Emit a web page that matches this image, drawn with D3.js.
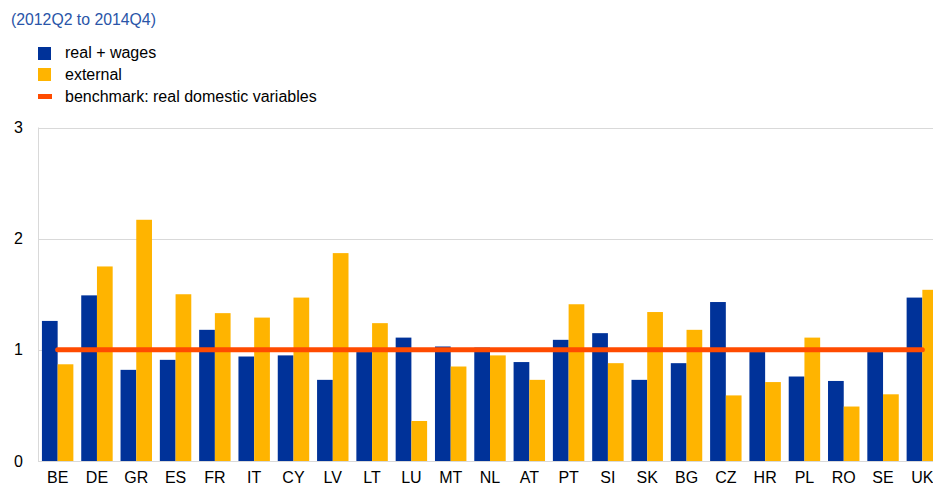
<!DOCTYPE html>
<html>
<head>
<meta charset="utf-8">
<script src="https://cdn.jsdelivr.net/npm/d3@7"></script>
<style>
  body { margin: 0; background: #fff; }
  text { font-family: "Liberation Sans", Arial, sans-serif; }
</style>
</head>
<body>
<script>
var countries = ['BE', 'DE', 'GR', 'ES', 'FR', 'IT', 'CY', 'LV', 'LT', 'LU', 'MT', 'NL',
                 'AT', 'PT', 'SI', 'SK', 'BG', 'CZ', 'HR', 'PL', 'RO', 'SE', 'UK'];
var realWages = [1.26, 1.49, 0.82, 0.91, 1.18, 0.94, 0.95, 0.73, 0.98, 1.11, 1.03, 1.02,
                 0.89, 1.09, 1.15, 0.73, 0.88, 1.43, 0.98, 0.76, 0.72, 0.98, 1.47];
var external = [0.87, 1.75, 2.17, 1.50, 1.33, 1.29, 1.47, 1.87, 1.24, 0.36, 0.85, 0.95,
                0.73, 1.41, 0.88, 1.34, 1.18, 0.59, 0.71, 1.11, 0.49, 0.60, 1.54];
var benchmark = 1;
var yTicks = [0, 1, 2, 3];
var seriesNames = ['real + wages', 'external', 'benchmark: real domestic variables'];

var blue = '#003299', yellow = '#ffb400', orange = '#ff4b00';

var svg = d3.select('body').append('svg')
    .attr('width', 933)
    .attr('height', 487);

// title
svg.append('text')
    .attr('x', 11).attr('y', 25)
    .attr('fill', '#2a55a8')
    .style('font-size', '15.8px')
    .text('(2012Q2 to 2014Q4)');

// legend
var legend = svg.append('g').attr('transform', 'translate(38,47)');
legend.append('rect').attr('x', 0).attr('y', 0).attr('width', 13).attr('height', 13).attr('fill', blue);
legend.append('rect').attr('x', 0).attr('y', 21).attr('width', 13).attr('height', 13).attr('fill', yellow);
legend.append('rect').attr('x', 0).attr('y', 47).attr('width', 14).attr('height', 5).attr('fill', orange);
legend.selectAll('text.lg')
    .data(seriesNames)
    .enter().append('text')
    .attr('class', 'lg')
    .attr('x', 27)
    .attr('y', function (d, i) { return 11 + i * 22; })
    .style('font-size', '16px')
    .attr('fill', '#000')
    .text(function (d) { return d; });

// scales
var x = d3.scaleBand()
    .domain(countries)
    .range([38, 942])
    .paddingInner(0.2)
    .paddingOuter(0.1);

var x1 = d3.scaleBand()
    .domain(['real', 'ext'])
    .range([0, x.bandwidth()]);

var y = d3.scaleLinear()
    .domain([0, 3])
    .range([461, 127.5]);

// gridlines
svg.append('g')
    .selectAll('line')
    .data(yTicks)
    .enter().append('line')
    .attr('x1', 38).attr('x2', 933)
    .attr('y1', function (d) { return Math.round(y(d)) + 0.5; })
    .attr('y2', function (d) { return Math.round(y(d)) + 0.5; })
    .attr('stroke', '#d9d9d9')
    .attr('stroke-width', 1);

svg.append('line')
    .attr('x1', 38.5).attr('x2', 38.5)
    .attr('y1', y(3)).attr('y2', y(0))
    .attr('stroke', '#d9d9d9');

// y axis labels
var yAxis = d3.axisLeft(y).tickValues(yTicks).tickFormat(d3.format('d')).tickSize(0).tickPadding(0);
var gy = svg.append('g')
    .attr('transform', 'translate(23,0)')
    .call(yAxis);
gy.select('.domain').remove();
gy.selectAll('text')
    .style('font-size', '16px')
    .attr('fill', '#000');

// bars
var groups = svg.append('g')
    .selectAll('g')
    .data(countries)
    .enter().append('g')
    .attr('transform', function (d) { return 'translate(' + x(d) + ',0)'; });

groups.append('rect')
    .attr('x', x1('real'))
    .attr('width', x1.bandwidth())
    .attr('y', function (d, i) { return y(realWages[i]); })
    .attr('height', function (d, i) { return y(0) - y(realWages[i]); })
    .attr('fill', blue);

groups.append('rect')
    .attr('x', x1('ext'))
    .attr('width', x1.bandwidth())
    .attr('y', function (d, i) { return y(external[i]); })
    .attr('height', function (d, i) { return y(0) - y(external[i]); })
    .attr('fill', yellow);

// benchmark line
var line = d3.line()
    .x(function (d) { return x(d) + x.bandwidth() / 2; })
    .y(function () { return y(benchmark); });

svg.append('path')
    .datum(countries)
    .attr('d', line)
    .attr('fill', 'none')
    .attr('stroke', orange)
    .attr('stroke-width', 5)
    .attr('stroke-linecap', 'round');

// x axis labels
var xAxis = d3.axisBottom(x).tickSize(0).tickPadding(0);
var gx = svg.append('g')
    .attr('transform', 'translate(0,472)')
    .call(xAxis);
gx.select('.domain').remove();
gx.selectAll('text')
    .style('font-size', '16px')
    .attr('fill', '#000');
</script>
</body>
</html>
